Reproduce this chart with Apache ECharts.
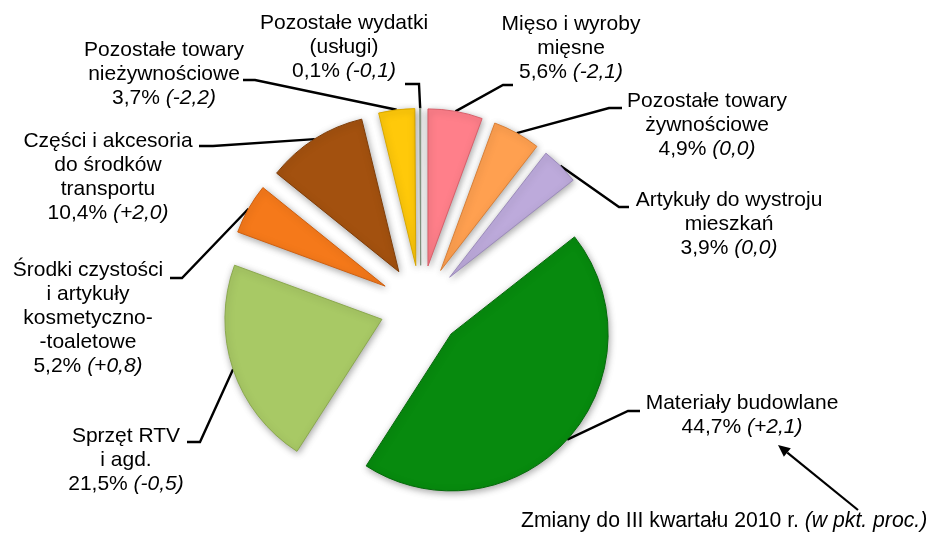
<!DOCTYPE html>
<html><head><meta charset="utf-8">
<script src="https://cdn.jsdelivr.net/npm/echarts@6/dist/echarts.min.js"></script>
<style>html,body{margin:0;padding:0;background:#fff}#c{width:932px;height:535px}</style>
</head><body><div id="c"></div>
<script>
// ---- data ----
const categories = [
  'Mięso i wyroby\nmięsne',
  'Pozostałe towary\nżywnościowe',
  'Artykuły do wystroju\nmieszkań',
  'Materiały budowlane',
  'Sprzęt RTV\ni agd.',
  'Środki czystości\ni artykuły\nkosmetyczno-\n-toaletowe',
  'Części i akcesoria\ndo środków\ntransportu',
  'Pozostałe towary\nnieżywnościowe',
  'Pozostałe wydatki\n(usługi)'
];
const shares = [5.6, 4.9, 3.9, 44.7, 21.5, 5.2, 10.4, 3.7, 0.1];
const changes = ['-2,1', '0,0', '0,0', '+2,1', '-0,5', '+0,8', '+2,0', '-2,2', '-0,1'];
const noteText = 'Zmiany do III kwartału 2010 r.';
const noteItalic = '(w pkt. proc.)';

// ---- style / layout ----
const colors = ['#FF7F8A', '#FFA050', '#BDAADB', '#078A0E', '#A8C965', '#F5791A', '#A3510F', '#FFC90A', '#C5CEBF'];
const borders = ['#D9606B', '#D98038', '#9C8BBB', '#056A0A', '#8BA94E', '#CF6010', '#7F3D08', '#D9A800', '#7F8F7C'];
// [centerX, topY, elbowX, elbowY, endX, endY]
const labelPos = [
  [571, 12, 503, 85, 513, 85],
  [707, 89, 609, 108, 622, 108],
  [729, 188, 619, 207, 629, 207],
  [742, 391, 628, 411, 640, 411],
  [126, 424, 200, 442, 187, 442],
  [88, 258, 182, 278, 170, 278],
  [108, 129, 213, 146, 199, 146],
  [164, 38, 255, 80, 243, 80],
  [344, 11, 419, 84, 405, 84]
];
const CX = 420.8, CY = 306.3, R = 157, EXPLODE = 41;
const FONT = '"Liberation Sans", Arial, sans-serif';
const LINE = { color: '#000', width: 2.4 };

const total = shares.reduce((a, b) => a + b, 0);
let cum = 0;
const series = shares.map((v, i) => {
  const mid = (cum + v / 2) / total * 2 * Math.PI;
  cum += v;
  const cx = CX + EXPLODE * Math.sin(mid);
  const cy = CY - EXPLODE * Math.cos(mid);
  const lp = labelPos[i];
  return {
    type: 'pie',
    center: [cx, cy],
    radius: [0, R],
    startAngle: 90,
    clockwise: true,
    animation: false,
    silent: true,
    avoidLabelOverlap: false,
    z: 2,
    data: shares.map((w, j) => ({
      value: w,
      name: categories[j],
      itemStyle: j === i ? {
        color: colors[j], borderColor: borders[j], borderWidth: 1,
        shadowBlur: 7, shadowColor: 'rgba(0,0,0,0.35)', shadowOffsetX: 1, shadowOffsetY: 2
      } : { color: 'rgba(0,0,0,0)', borderWidth: 0, shadowBlur: 0 },
      label: { show: j === i },
      labelLine: { show: j === i, lineStyle: LINE }
    })),
    label: {
      position: 'outside',
      color: '#000',
      fontSize: 21,
      fontFamily: FONT,
      lineHeight: 24,
      formatter: p => p.name + '\n' + shares[p.dataIndex].toFixed(1).replace('.', ',') + '% {i|(' + changes[p.dataIndex] + ')}',
      rich: { i: { fontStyle: 'italic', fontSize: 21, lineHeight: 24, fontFamily: FONT, color: '#000' } }
    },
    labelLine: { show: true, lineStyle: LINE },
    labelLayout: p => {
      if (p.dataIndex !== i) return {};
      let start = p.labelLinePoints && p.labelLinePoints[0];
      if (!start) start = [cx + R * Math.sin(mid), cy - R * Math.cos(mid)];
      return {
        x: lp[0], y: lp[1], align: 'center', verticalAlign: 'top',
        labelLinePoints: [start, [lp[2], lp[3]], [lp[4], lp[5]]]
      };
    }
  };
});

// arrow geometry (annotation)
const tail = [858, 510], tip = [778, 445];
const ux = tip[0] - tail[0], uy = tip[1] - tail[1], ul = Math.hypot(ux, uy);
const nx = ux / ul, ny = uy / ul, HL = 12, HW = 5.5;
const bx = tip[0] - HL * nx, by = tip[1] - HL * ny;

const chart = echarts.init(document.getElementById('c'), null, { renderer: 'canvas' });
chart.setOption({
  backgroundColor: '#fff',
  animation: false,
  title: {
    text: noteText + ' {i|' + noteItalic + '}',
    left: 521, top: 509,
    padding: 0,
    textStyle: {
      color: '#000', fontSize: 21.2, fontWeight: 'normal', fontFamily: FONT, lineHeight: 24,
      rich: { i: { fontStyle: 'italic', fontSize: 21.2, fontFamily: FONT, lineHeight: 24, color: '#000' } }
    }
  },
  graphic: [
    { type: 'line', shape: { x1: tail[0], y1: tail[1], x2: bx, y2: by }, style: { stroke: '#000', lineWidth: 2.2 }, z: 10 },
    { type: 'polygon', shape: { points: [tip, [bx - HW * ny, by + HW * nx], [bx + HW * ny, by - HW * nx]] }, style: { fill: '#000' }, z: 10 }
  ],
  series: series
});
</script></body></html>
